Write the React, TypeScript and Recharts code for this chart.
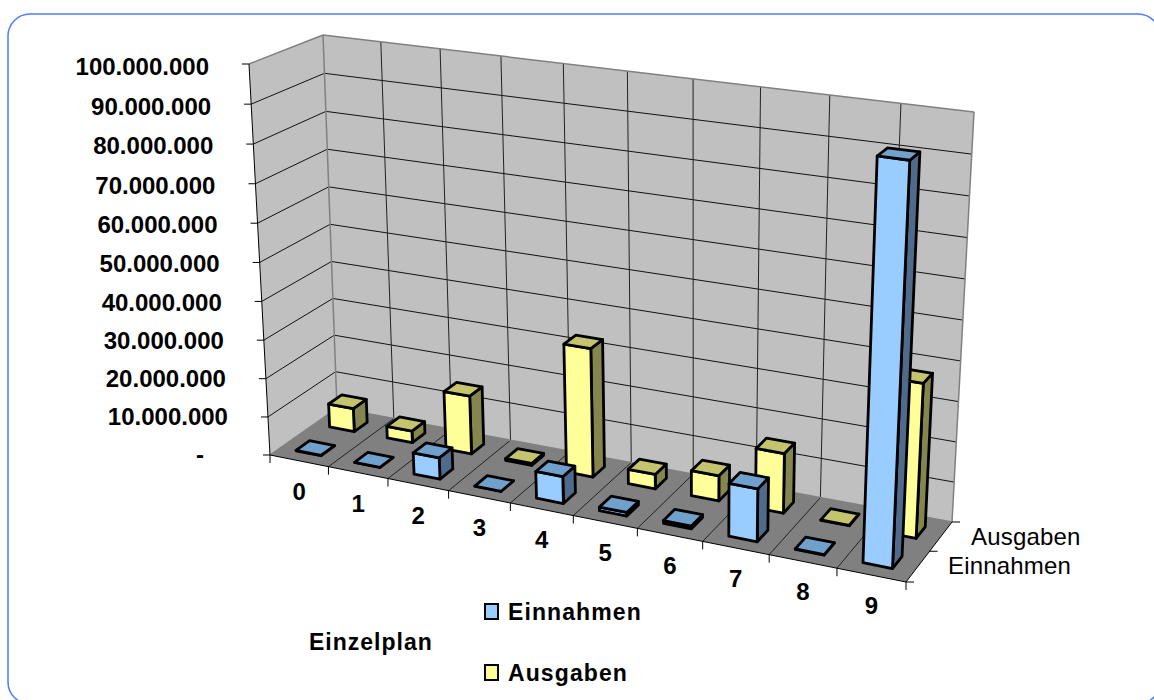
import React from "react";
import { BarChart, Bar, XAxis, YAxis, Customized } from "recharts";

const categories = ["0", "1", "2", "3", "4", "5", "6", "7", "8", "9"];
const einnahmen = [0.1e6, 0, 5.5e6, 0, 6.8e6, 0.9e6, 0.7e6, 13e6, 0.1e6, 96e6];
const ausgaben = [6.2e6, 3.1e6, 15.2e6, 0.5e6, 33e6, 3.7e6, 6.4e6, 15e6, 0.1e6, 38e6];
const yTicks = [0, 10e6, 20e6, 30e6, 40e6, 50e6, 60e6, 70e6, 80e6, 90e6, 100e6];
const depthLabels = ["Einnahmen", "Ausgaben"];
const data = categories.map((c, i) => ({ c, einnahmen: einnahmen[i], ausgaben: ausgaben[i] }));

const W = 1154;
const H = 700;
// flat plot rectangle the library scales work in; every mark is projected from it
const PL = 100, PT = 100, PW = 800, PH = 400;

// --- projection of the box (u along categories, v in depth, w height; all 0..1)
function solve(A: number[][], b: number[]): number[] {
  const n = b.length;
  const M = A.map((r, i) => [...r, b[i]]);
  for (let i = 0; i < n; i++) {
    let p = i;
    for (let r = i + 1; r < n; r++) if (Math.abs(M[r][i]) > Math.abs(M[p][i])) p = r;
    [M[i], M[p]] = [M[p], M[i]];
    for (let r = 0; r < n; r++) {
      if (r === i) continue;
      const f = M[r][i] / M[i][i];
      for (let c = i; c <= n; c++) M[r][c] -= f * M[i][c];
    }
  }
  return M.map((r, i) => r[n] / r[i]);
}
type Corner = [number, number, number, number];
function homography(corners: Corner[]) {
  const A: number[][] = [];
  const r: number[] = [];
  corners.forEach(([u, v, x, y]) => {
    A.push([u, v, 1, 0, 0, 0, -u * x, -v * x]);
    r.push(x);
    A.push([0, 0, 0, u, v, 1, -u * y, -v * y]);
    r.push(y);
  });
  const [a, b, c, d, e, f, g, h] = solve(A, r);
  return (u: number, v: number): [number, number] => {
    const den = g * u + h * v + 1;
    return [(a * u + b * v + c) / den, (d * u + e * v + f) / den];
  };
}
const floorAt = homography([
  [0, 0, 270, 455],
  [1, 0, 906, 582],
  [1, 1, 952, 522],
  [0, 1, 337, 408],
]);
const roofAt = homography([
  [0, 0, 249, 64],
  [1, 0, 926, 152],
  [1, 1, 974, 112],
  [0, 1, 323, 35],
]);
function P(u0: number, v: number, w0: number): [number, number] {
  const u = u0 + 0.05 * u0 * (1 - u0);
  const w = w0 - 0.03 * w0 * (1 - w0);
  const q = floorAt(u, v);
  const t = roofAt(u, v);
  return [q[0] + (t[0] - q[0]) * w, q[1] + (t[1] - q[1]) * w];
}
const pts = (list: [number, number][]) => list.map((p) => p.join(",")).join(" ");
const seg = (p: [number, number], q: [number, number]) => ({ x1: p[0], y1: p[1], x2: q[0], y2: q[1] });
const FONT = "Liberation Sans, Arial, sans-serif";

const Frame = () => {
  const gridW = [1, 2, 3, 4, 5, 6, 7, 8, 9, 10].map((k) => k / 10);
  const gridU = [1, 2, 3, 4, 5, 6, 7, 8, 9].map((k) => k / 10);
  const edges: [[number, number, number], [number, number, number]][] = [
    [[0, 1, 0], [0, 1, 1]],
    [[0, 0, 1], [0, 1, 1]],
    [[0, 1, 1], [1, 1, 1]],
    [[1, 1, 1], [1, 1, 0]],
    [[0, 1, 0], [1, 1, 0]],
    [[0, 0, 0], [0, 1, 0]],
  ];
  return (
    <g>
      <rect x={8} y={14} width={1152} height={690} rx={22} ry={22} fill="#fff" stroke="#4f7ff5" strokeWidth={1.5} />
      <polygon points={pts([P(0, 0, 0), P(0, 1, 0), P(0, 1, 1), P(0, 0, 1)])} fill="#C0C0C0" />
      <polygon points={pts([P(0, 1, 0), P(1, 1, 0), P(1, 1, 1), P(0, 1, 1)])} fill="#C0C0C0" />
      <polygon points={pts([P(0, 0, 0), P(1, 0, 0), P(1, 1, 0), P(0, 1, 0)])} fill="#808080" />
      {gridW.slice(0, 9).map((w) => (
        <g key={w} stroke="#111" strokeWidth={1}>
          <line {...seg(P(0, 0, w), P(0, 1, w))} />
          <line {...seg(P(0, 1, w), P(1, 1, w))} />
        </g>
      ))}
      {gridU.map((u) => (
        <g key={u} stroke="#222" strokeWidth={1}>
          <line {...seg(P(u, 1, 0), P(u, 1, 1))} />
          <line {...seg(P(u, 0, 0), P(u, 1, 0))} />
        </g>
      ))}
      {edges.map(([p, q], n) => (
        <line key={n} {...seg(P(p[0], p[1], p[2]), P(q[0], q[1], q[2]))} stroke="#808080" strokeWidth={1.5} />
      ))}
      <g stroke="#000" strokeWidth={1} fill="none">
        <line {...seg(P(0, 0, 0), P(0, 0, 1))} />
        <line {...seg(P(0, 0, 0), P(1, 0, 0))} />
        <line {...seg(P(1, 0, 0), P(1, 1, 0))} />
        {[0, ...gridW].map((w) => {
          const p = P(0, 0, w);
          return <line key={w} x1={p[0] - 7} y1={p[1]} x2={p[0]} y2={p[1]} />;
        })}
        {[0, ...gridU, 1].map((u) => {
          const p = P(u, 0, 0);
          return <line key={u} x1={p[0]} y1={p[1]} x2={p[0]} y2={p[1] + 8} />;
        })}
        {[0, 0.5, 1].map((v) => {
          const p = P(1, v, 0);
          return <line key={v} x1={p[0]} y1={p[1]} x2={p[0] + 8} y2={p[1]} />;
        })}
      </g>
      {depthLabels.map((t, n) => {
        const p = P(1, 0.25 + n * 0.5, 0);
        return (
          <text key={t} x={p[0] + 30} y={p[1] + 8 + n} fontFamily={FONT} fontSize={24} letterSpacing={0.2} fill="#000" textAnchor="start">{t}</text>
        );
      })}
      <text x={309} y={650} fontFamily={FONT} fontWeight="bold" fontSize={23} letterSpacing={1} fill="#000">Einzelplan</text>
    </g>
  );
};

const Box = (props: any) => {
  const { index, y, height, depth, front, top, side } = props;
  const t = (PT + PH - y) / PH;
  const bt = (PT + PH - (y + height)) / PH;
  const u0 = (index + 0.27) / 10, u1 = (index + 0.7) / 10;
  const v0 = depth + 0.15, v1 = depth + 0.35;
  const w = Math.max(t, bt);
  const stroke = { stroke: "#000", strokeWidth: 2.8, strokeLinejoin: "round" as const };
  return (
    <g>
      <polygon points={pts([P(u1, v0, 0), P(u1, v1, 0), P(u1, v1, w), P(u1, v0, w)])} fill={side} {...stroke} />
      <polygon points={pts([P(u0, v0, 0), P(u1, v0, 0), P(u1, v0, w), P(u0, v0, w)])} fill={front} {...stroke} />
      <polygon points={pts([P(u0, v0, w), P(u1, v0, w), P(u1, v1, w), P(u0, v1, w)])} fill={top} {...stroke} />
    </g>
  );
};

const YTick = (props: any) => {
  const { payload } = props;
  const w = payload.value / 100e6;
  const p = P(0, 0, w);
  const isZero = payload.value === 0;
  const label = isZero ? "-" : payload.value.toLocaleString("de-DE");
  return (
    <text x={isZero ? 204 : p[0] - 40} y={p[1] + 8 + 3 * w} textAnchor="end" fontFamily={FONT} fontWeight="bold" fontSize={24} fill="#000">{label}</text>
  );
};

const XTick = (props: any) => {
  const { payload, index } = props;
  const p = P((index + 0.5) / 10, 0, 0);
  return (
    <text x={p[0]} y={p[1] + 39} textAnchor="middle" fontFamily={FONT} fontWeight="bold" fontSize={24} fill="#000">{payload.value}</text>
  );
};

const LegendMark = ({ y, fill, label }: { y: number; fill: string; label: string }) => (
  <g>
    <rect x={485} y={y - 8} width={13} height={15} fill={fill} stroke="#000" strokeWidth={2} />
    <text x={508} y={y + 8} fontFamily={FONT} fontWeight="bold" fontSize={23} letterSpacing={1.1} fill="#000">{label}</text>
  </g>
);
const LegendPart = () => (
  <g>
    <LegendMark y={612} fill="#99CCFF" label="Einnahmen" />
    <LegendMark y={673} fill="#FFFF99" label="Ausgaben" />
  </g>
);

export default function App() {
  return (
    <div style={{ position: "absolute", left: 0, top: 0, width: W, height: H, overflow: "hidden", background: "#fff" }}>
      <BarChart width={W} height={H} data={data}
        margin={{ left: PL - 1, top: PT, right: W - PL - PW, bottom: H - PT - PH - 1 }}>
        <Customized component={Frame} />
        <XAxis dataKey="c" height={1} axisLine={false} tickLine={false} tick={<XTick />} interval={0} />
        <YAxis width={1} domain={[0, 100e6]} ticks={yTicks} axisLine={false} tickLine={false} tick={<YTick />} interval={0} />
        <Bar dataKey="ausgaben" isAnimationActive={false}
          shape={(p: any) => <Box {...p} depth={0.5} front="#FFFF99" top="#C4C46E" side="#85854E" />} />
        <Bar dataKey="einnahmen" isAnimationActive={false}
          shape={(p: any) => <Box {...p} depth={0} front="#99CCFF" top="#70A0CC" side="#506A8C" />} />
        <Customized component={LegendPart} />
      </BarChart>
    </div>
  );
}
